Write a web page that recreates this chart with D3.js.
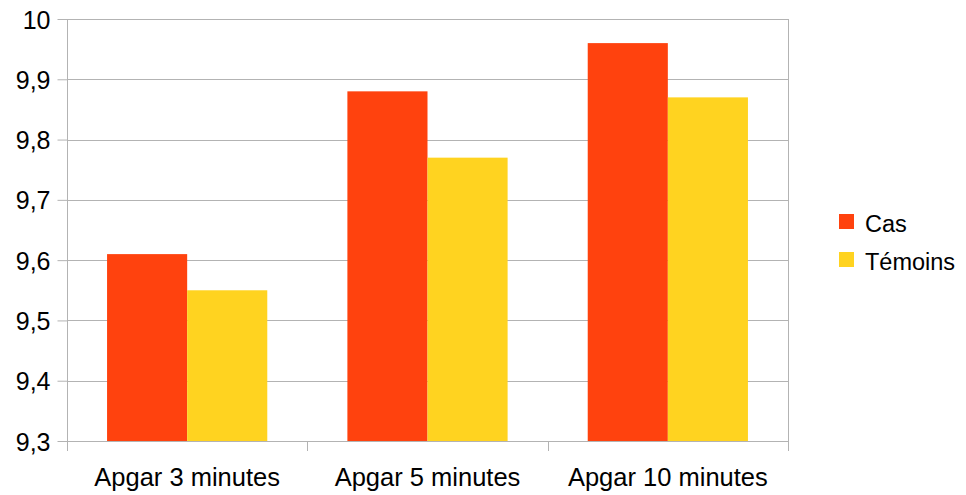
<!DOCTYPE html>
<html>
<head>
<meta charset="utf-8">
<script src="https://cdn.jsdelivr.net/npm/d3@7"></script>
<style>
  html, body { margin: 0; padding: 0; background: #fff; }
  svg { display: block; font-family: "Liberation Sans", Arial, sans-serif; }
</style>
</head>
<body>
<svg id="chart" width="966" height="495"></svg>
<script>
// Mean Apgar scores, cases vs controls
const categories = ["Apgar 3 minutes", "Apgar 5 minutes", "Apgar 10 minutes"];
const seriesNames = ["Cas", "Témoins"];
const casValues = [9.61, 9.88, 9.96];
const temoinsValues = [9.55, 9.77, 9.87];
const yTicks = [9.3, 9.4, 9.5, 9.6, 9.7, 9.8, 9.9, 10];
const colors = ["#ff420e", "#ffd320"];

const svg = d3.select("#chart");
const margin = { left: 67, right: 178, top: 19, bottom: 54 };
const W = 966, H = 495;
const x0 = margin.left, x1 = W - margin.right;
const yTop = margin.top, yBot = H - margin.bottom;
const FONT = "'Liberation Sans', Arial, sans-serif";

const x = d3.scaleBand().domain(categories).range([x0, x1]).padding(0);
const xs = d3.scaleBand().domain(seriesNames).range([0, x.bandwidth()]).paddingInner(0).paddingOuter(0.5);
const y = d3.scaleLinear().domain([9.3, 10]).range([yBot, yTop]);
const fmt = v => (v === 10 ? "10" : d3.format(".1f")(v).replace(".", ","));
const grid = "#b3b3b3";

// horizontal grid lines
svg.append("g").selectAll("line").data(yTicks).join("line")
  .attr("x1", x0).attr("x2", x1)
  .attr("y1", d => Math.round(y(d)) + 0.5).attr("y2", d => Math.round(y(d)) + 0.5)
  .attr("stroke", grid).attr("stroke-width", 1);

// right border of the plot area
svg.append("line")
  .attr("x1", x1 + 0.5).attr("x2", x1 + 0.5)
  .attr("y1", yTop).attr("y2", yBot + 10)
  .attr("stroke", grid);

// bars
const data = categories.map((c, i) => ({ cat: c, vals: [casValues[i], temoinsValues[i]] }));
const groups = svg.append("g").selectAll("g").data(data).join("g")
  .attr("transform", d => `translate(${x(d.cat)},0)`);
groups.selectAll("rect")
  .data(d => d.vals.map((v, j) => ({ name: seriesNames[j], v, j })))
  .join("rect")
  .attr("x", d => xs(d.name))
  .attr("width", xs.bandwidth())
  .attr("y", d => y(d.v))
  .attr("height", d => y(9.3) - y(d.v))
  .attr("fill", d => colors[d.j]);

// y axis
const yAxis = d3.axisLeft(y).tickValues(yTicks).tickFormat(fmt).tickSize(10).tickPadding(7);
const gy = svg.append("g").attr("transform", `translate(${x0 + 0.5},0)`).call(yAxis);
gy.select(".domain").attr("stroke", grid).attr("d", `M-0,${yTop}V${yBot + 10}`);
gy.selectAll(".tick line").attr("stroke", grid);
gy.selectAll(".tick text").attr("fill", "#000").style("font-size", "25px")
  .style("font-family", FONT).attr("dy", "0.36em");

// x axis: ticks at category boundaries
const bounds = [x0].concat(categories.map(c => x(c) + x.bandwidth()));
svg.append("g").selectAll("line").data(bounds).join("line")
  .attr("x1", d => Math.round(d) + 0.5).attr("x2", d => Math.round(d) + 0.5)
  .attr("y1", yBot).attr("y2", yBot + 10)
  .attr("stroke", grid);
svg.append("line")
  .attr("x1", x0).attr("x2", x1).attr("y1", yBot + 0.5).attr("y2", yBot + 0.5)
  .attr("stroke", grid);
svg.append("g").selectAll("text").data(categories).join("text")
  .attr("x", d => x(d) + x.bandwidth() / 2)
  .attr("y", 486)
  .attr("text-anchor", "middle")
  .style("font-size", "25.5px")
  .text(d => d);

// legend
const legend = svg.append("g").attr("transform", "translate(839,214)");
const li = legend.selectAll("g").data(seriesNames).join("g")
  .attr("transform", (d, i) => `translate(0,${i * 38})`);
li.append("rect").attr("width", 15).attr("height", 15).attr("fill", (d, i) => colors[i]);
li.append("text").attr("x", 26).attr("y", 18)
  .style("font-size", "23.5px").text(d => d);
</script>
</body>
</html>
